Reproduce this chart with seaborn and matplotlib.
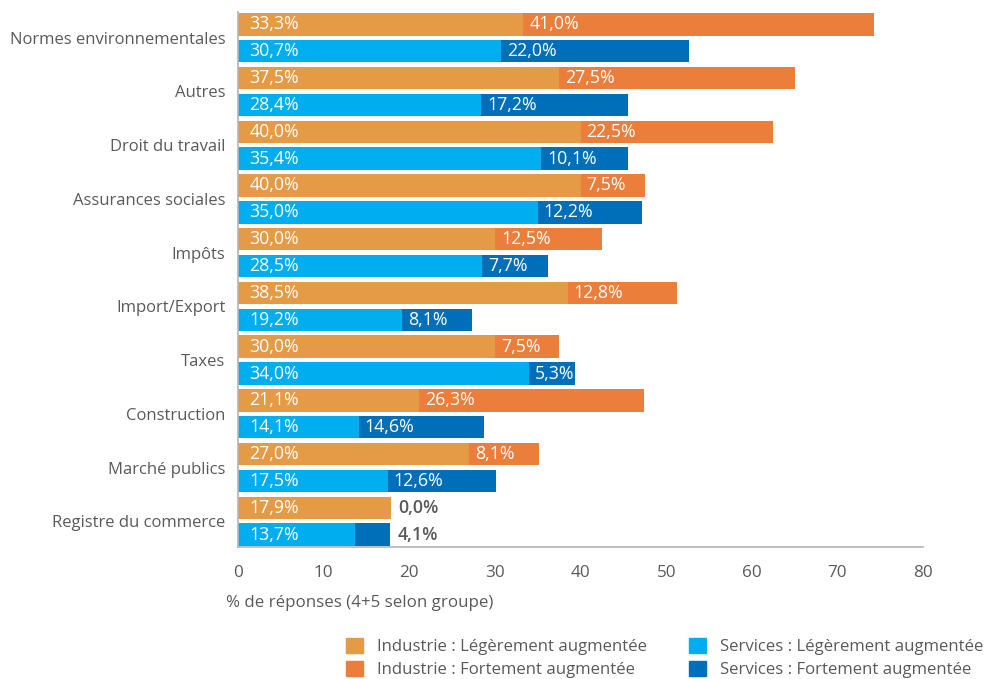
import matplotlib
matplotlib.use("Agg")
import matplotlib.pyplot as plt
from matplotlib.patches import Patch
import pandas as pd
import seaborn as sns

categories = [
    "Normes environnementales", "Autres", "Droit du travail", "Assurances sociales",
    "Impôts", "Import/Export", "Taxes", "Construction", "Marché publics",
    "Registre du commerce",
]
industrie_leger = [33.3, 37.5, 40.0, 40.0, 30.0, 38.5, 30.0, 21.1, 27.0, 17.9]
industrie_fort = [41.0, 27.5, 22.5, 7.5, 12.5, 12.8, 7.5, 26.3, 8.1, 0.0]
services_leger = [30.7, 28.4, 35.4, 35.0, 28.5, 19.2, 34.0, 14.1, 17.5, 13.7]
services_fort = [22.0, 17.2, 10.1, 12.2, 7.7, 8.1, 5.3, 14.6, 12.6, 4.1]
groups = ["Industrie", "Services"]
x_ticks = [0, 10, 20, 30, 40, 50, 60, 70, 80]

legend_labels = [
    "Industrie : Légèrement augmentée", "Industrie : Fortement augmentée",
    "Services : Légèrement augmentée", "Services : Fortement augmentée",
]

c_ind_l, c_ind_f = "#E59A45", "#EC7E3B"
c_srv_l, c_srv_f = "#00AEEF", "#006FB9"
grey_txt = "#5a5a5a"
axis_grey = "#b4b4b4"

sns.set_theme(style="white")
plt.rcParams["font.family"] = ["Open Sans", "DejaVu Sans"]

rows = []
for i, cat in enumerate(categories):
    rows.append(dict(cat=cat, grp="Industrie", leger=industrie_leger[i],
                     total=industrie_leger[i] + industrie_fort[i]))
    rows.append(dict(cat=cat, grp="Services", leger=services_leger[i],
                     total=services_leger[i] + services_fort[i]))
df = pd.DataFrame(rows)

fig = plt.figure(figsize=(9.84, 6.79), dpi=100)
ax = fig.add_axes([238 / 984, 1 - 547 / 679, (923 - 238) / 984, (547 - 12) / 679])

# stacked bars: total length in the dark colour, light part drawn on top
sns.barplot(data=df, y="cat", x="total", hue="grp", hue_order=groups,
            palette=[c_ind_f, c_srv_f], orient="h", width=1.0, gap=0.16,
            legend=False, ax=ax, saturation=1, linewidth=0)
sns.barplot(data=df, y="cat", x="leger", hue="grp", hue_order=groups,
            palette=[c_ind_l, c_srv_l], orient="h", width=1.0, gap=0.16,
            legend=False, ax=ax, saturation=1, linewidth=0)

fmt = lambda v: f"{v:.1f}%".replace(".", ",")
light_vals = {"Industrie": industrie_leger, "Services": services_leger}
strong_vals = {"Industrie": industrie_fort, "Services": services_fort}
for gi, g in enumerate(groups):
    cont = ax.containers[2 + gi]
    for i, patch in enumerate(cont.patches):
        yc = patch.get_y() + patch.get_height() / 2
        lv, sv = light_vals[g][i], strong_vals[g][i]
        ax.text(1.3, yc, fmt(lv), color="white", fontsize=12.8,
                va="center", ha="left")
        if sv >= 5:
            ax.text(lv + 0.7, yc, fmt(sv), color="white", fontsize=12.8,
                    va="center", ha="left")
        else:
            ax.text(lv + sv + 0.8, yc, fmt(sv), color=grey_txt, fontsize=12.8,
                    fontweight="semibold", va="center", ha="left")

ax.set_xlim(0, 80)
ax.set_ylim(9.48, -0.48)
ax.set_xticks(x_ticks)
ax.set_xticklabels([str(t) for t in x_ticks])
ax.set_xlabel("")
ax.set_ylabel("")
for s in ["top", "right"]:
    ax.spines[s].set_visible(False)
for s in ["left", "bottom"]:
    ax.spines[s].set_color(axis_grey)
    ax.spines[s].set_linewidth(1.2)
ax.tick_params(axis="x", direction="in", length=6, width=1.2, color=axis_grey,
               labelsize=12.3, labelcolor=grey_txt, pad=13)
ax.tick_params(axis="y", length=0, labelsize=12, labelcolor=grey_txt, pad=9)

fig.text(226 / 984, 1 - 603 / 679, "% de réponses (4+5 selon groupe)",
         fontsize=12.2, color=grey_txt, ha="left", va="center")

handles = [Patch(color=c) for c in [c_ind_l, c_ind_f, c_srv_l, c_srv_f]]
fig.legend(handles, legend_labels, ncol=2, loc="lower right",
           bbox_to_anchor=(0.999, 0.001), frameon=False, fontsize=12.1,
           labelcolor=grey_txt, handlelength=1.0, handleheight=1.0,
           handletextpad=0.8, columnspacing=2.55, labelspacing=0.34,
           borderaxespad=0, borderpad=0)

fig.savefig("out.png", dpi=100)
